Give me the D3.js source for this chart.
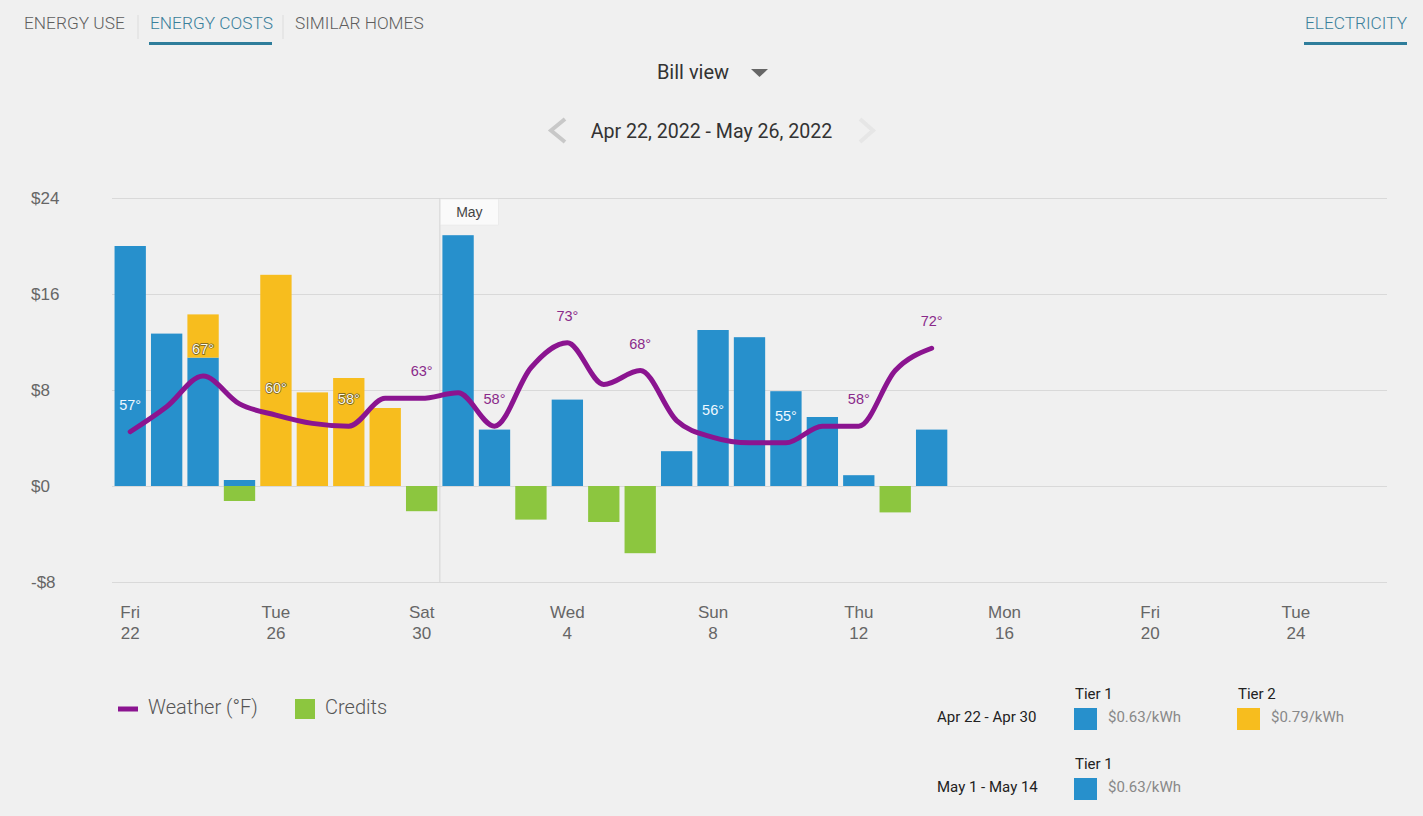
<!DOCTYPE html>
<html>
<head>
<meta charset="utf-8">
<script src="https://cdn.jsdelivr.net/npm/d3@7"></script>
<style>
  html, body { margin: 0; padding: 0; background: #f0f0f0; }
  svg { display: block; }
</style>
</head>
<body>
<svg id="chart" width="1423" height="816"></svg>
<script>
// ---------------- DATA ----------------
const navTabs = ["ENERGY USE", "ENERGY COSTS", "SIMILAR HOMES"];
const fuelTab = "ELECTRICITY";
const viewLabel = "Bill view";
const rangeLabel = "Apr 22, 2022 - May 26, 2022";
const startDate = new Date(2022, 3, 22);
const endDate = new Date(2022, 4, 27);
// daily values, Apr 22 .. May 14
const tier1 = [20.0, 12.7, 10.7, 0.5, 0, 0, 0, 0, 0, 20.9, 4.7, 0, 7.2, 0, 0, 2.9, 13.0, 12.4, 7.9, 5.75, 0.9, 0, 4.7];
const tier2 = [0, 0, 3.6, 0, 17.6, 7.8, 9.0, 6.5, 0, 0, 0, 0, 0, 0, 0, 0, 0, 0, 0, 0, 0, 0, 0];
const credits = [0, 0, 0, -1.25, 0, 0, 0, 0, -2.1, 0, 0, -2.8, 0, -3.0, -5.6, 0, 0, 0, 0, 0, 0, -2.2, 0];
const temps = [57, 61.5, 67, 62, 60, 58.5, 58, 63, 63, 64, 58, 68.5, 73, 65.5, 68, 59, 56, 55, 55, 58, 58, 68, 72];
const yTicks = [-8, 0, 8, 16, 24];
const monthMarker = { label: "May", date: new Date(2022, 4, 1) };
const legendItems = ["Weather (°F)", "Credits"];
const ratePeriods = ["Apr 22 - Apr 30", "May 1 - May 14"];
const tierNames = ["Tier 1", "Tier 2"];
const tierRates = ["$0.63/kWh", "$0.79/kWh"];

// ---------------- STYLE ----------------
const C = {
  blue: "#2790cc", yellow: "#f7bd1e", green: "#8cc63f", purple: "#8b1490",
  purpleText: "#8a2a8a", grid: "#d9d9d9", axis: "#666", nav: "#6a6a6a", navActive: "#3a7f9b"
};
const uiFont = "Roboto, 'Open Sans', sans-serif";
const chartFont = "'Liberation Sans', Arial, sans-serif";

const svg = d3.select("#chart");

// ---------------- HEADER ----------------
const nav = svg.append("g");
const navX = [24, 150, 295];
navTabs.forEach((t, i) => {
  nav.append("text").attr("x", navX[i]).attr("y", 29)
    .attr("font-family", uiFont).attr("font-size", 17.3).attr("font-weight", 300)
    .attr("fill", i === 1 ? C.navActive : "#5e5e5e").text(t);
});
[138, 283].forEach(x => nav.append("line").attr("x1", x).attr("x2", x).attr("y1", 15).attr("y2", 39)
  .attr("stroke", "#dcdcdc").attr("stroke-width", 1));
nav.append("rect").attr("x", 149).attr("y", 42).attr("width", 123).attr("height", 3).attr("fill", "#2e7d9b");
nav.append("text").attr("x", 1407).attr("y", 29).attr("text-anchor", "end")
  .attr("font-family", uiFont).attr("font-size", 17.3).attr("font-weight", 300)
  .attr("fill", C.navActive).text(fuelTab);
nav.append("rect").attr("x", 1304).attr("y", 42).attr("width", 103).attr("height", 3).attr("fill", "#2e7d9b");

svg.append("text").attr("x", 693).attr("y", 79).attr("text-anchor", "middle")
  .attr("font-family", uiFont).attr("font-size", 20).attr("fill", "#333").text(viewLabel);
svg.append("path").attr("d", "M751,69 L768,69 L759.5,77 Z").attr("fill", "#666");

svg.append("text").attr("x", 711.5).attr("y", 138).attr("text-anchor", "middle")
  .attr("font-family", uiFont).attr("font-size", 19.6).attr("fill", "#333").text(rangeLabel);
svg.append("path").attr("d", "M565,119 L551,130.5 L565,142").attr("fill", "none")
  .attr("stroke", "#c8c8c8").attr("stroke-width", 4);
svg.append("path").attr("d", "M860,119 L873,130.5 L860,142").attr("fill", "none")
  .attr("stroke", "#e6e6e6").attr("stroke-width", 4);

// ---------------- SCALES ----------------
const days = d3.timeDay.range(startDate, endDate);
const x = d3.scaleBand().domain(days.map(d => +d)).range([112, 1387])
  .paddingInner(0.14).paddingOuter(0.07);
const y = d3.scaleLinear().domain([-8, 24]).range([582, 198]);
const yT = d3.scaleLinear().domain([30, 99]).range([582, 198]);
const cx = i => x(+days[i]) + x.bandwidth() / 2;

// ---------------- GRID + Y AXIS ----------------
const yAxis = d3.axisLeft(y).tickValues(yTicks).tickSize(-(1387 - 112))
  .tickFormat(v => (v < 0 ? "-$" : "$") + Math.abs(v));
const gy = svg.append("g").attr("transform", "translate(112,0)").call(yAxis);
gy.select(".domain").remove();
gy.selectAll(".tick line").attr("stroke", C.grid).attr("stroke-width", 1);
gy.selectAll(".tick text").attr("x", -81).attr("text-anchor", "start")
  .attr("font-family", chartFont).attr("font-size", 17).attr("fill", C.axis);

// month marker
const mx = x(+monthMarker.date) - x.step() * x.paddingInner() / 2;
svg.append("line").attr("x1", mx).attr("x2", mx).attr("y1", y(24)).attr("y2", y(-8))
  .attr("stroke", "#d4d4d4").attr("stroke-width", 1);
svg.append("rect").attr("x", mx + 0.5).attr("y", 199).attr("width", 58).attr("height", 26)
  .attr("fill", "#fafafa").attr("stroke", "#e4e4e4").attr("stroke-width", 0.5);
svg.append("text").attr("x", mx + 29.5).attr("y", 217).attr("text-anchor", "middle")
  .attr("font-family", chartFont).attr("font-size", 14).attr("fill", "#444").text(monthMarker.label);

// ---------------- X AXIS ----------------
const tickDays = days.filter((d, i) => i % 4 === 0);
const fmtDow = d3.timeFormat("%a"), fmtDay = d3.timeFormat("%-d");
const gx = svg.append("g").attr("transform", "translate(0,582)")
  .call(d3.axisBottom(x).tickValues(tickDays.map(d => +d)).tickSize(0).tickFormat(""));
gx.select(".domain").remove();
gx.selectAll(".tick").each(function (v) {
  const t = d3.select(this).select("text").attr("font-family", chartFont)
    .attr("font-size", 17).attr("fill", C.axis).attr("y", 0).attr("dy", null);
  t.append("tspan").attr("x", 0).attr("y", 36).text(fmtDow(new Date(v)));
  t.append("tspan").attr("x", 0).attr("y", 57).text(fmtDay(new Date(v)));
});

// ---------------- BARS ----------------
const bars = svg.append("g");
tier1.forEach((v, i) => {
  if (v > 0) bars.append("rect").attr("x", x(+days[i])).attr("width", x.bandwidth())
    .attr("y", y(v)).attr("height", y(0) - y(v)).attr("fill", C.blue);
});
tier2.forEach((v, i) => {
  if (v > 0) bars.append("rect").attr("x", x(+days[i])).attr("width", x.bandwidth())
    .attr("y", y(tier1[i] + v)).attr("height", y(tier1[i]) - y(tier1[i] + v)).attr("fill", C.yellow);
});
credits.forEach((v, i) => {
  if (v < 0) bars.append("rect").attr("x", x(+days[i])).attr("width", x.bandwidth())
    .attr("y", y(0)).attr("height", y(v) - y(0)).attr("fill", C.green);
});

// ---------------- WEATHER LINE ----------------
const line = d3.line().x((d, i) => cx(i)).y(d => yT(d)).curve(d3.curveMonotoneX);
svg.append("path").datum(temps).attr("d", line).attr("fill", "none")
  .attr("stroke", C.purple).attr("stroke-width", 5).attr("stroke-linecap", "round")
  .attr("stroke-linejoin", "round");

const labels = svg.append("g");
temps.forEach((t, i) => {
  if (i % 2 !== 0) return;
  const lx = cx(i), ly = yT(t) - 22;
  const top1 = y(tier1[i]), top2 = y(tier1[i] + tier2[i]);
  const mid = ly - 5;
  let fill = C.purpleText, stroke = null;
  if (tier1[i] + tier2[i] > 0 && mid > top2) {
    fill = "#eef8ff";
    if (mid < top1 || tier1[i] === 0) stroke = "#6b5a20";
  }
  const tx = labels.append("text").attr("x", lx).attr("y", ly).attr("text-anchor", "middle")
    .attr("font-family", chartFont).attr("font-size", 14.5).attr("fill", fill)
    .text(Math.round(t) + "°");
  if (stroke) tx.attr("stroke", stroke).attr("stroke-width", 1.4).attr("paint-order", "stroke")
    .attr("fill", "#fffbe8");
});

// ---------------- LEGEND ----------------
svg.append("line").attr("x1", 118).attr("x2", 138).attr("y1", 709).attr("y2", 709)
  .attr("stroke", C.purple).attr("stroke-width", 5);
svg.append("text").attr("x", 148).attr("y", 714).attr("font-family", uiFont).attr("font-weight", 300)
  .attr("font-size", 20).attr("fill", "#555").text(legendItems[0]);
svg.append("rect").attr("x", 295).attr("y", 699).attr("width", 20).attr("height", 20).attr("fill", C.green);
svg.append("text").attr("x", 325).attr("y", 714).attr("font-family", uiFont).attr("font-weight", 300)
  .attr("font-size", 20).attr("fill", "#555").text(legendItems[1]);

// rate legend
const rl = svg.append("g").attr("font-family", uiFont);
const rowY = [0, 70];
const rowTiers = [[0, 1], [0]];
const tierColors = [C.blue, C.yellow];
const tierX = [1074, 1237];
ratePeriods.forEach((p, r) => {
  const oy = rowY[r];
  rl.append("text").attr("x", 937).attr("y", 722 + oy).attr("font-size", 15).attr("fill", "#222").text(p);
  rowTiers[r].forEach(k => {
    rl.append("text").attr("x", tierX[k] + 1).attr("y", 699 + oy).attr("font-size", 15).attr("fill", "#222").text(tierNames[k]);
    rl.append("rect").attr("x", tierX[k]).attr("y", 708 + oy).attr("width", 23).attr("height", 22).attr("fill", tierColors[k]);
    rl.append("text").attr("x", tierX[k] + 34).attr("y", 722 + oy).attr("font-size", 15).attr("fill", "#888").text(tierRates[k]);
  });
});
</script>
</body>
</html>
